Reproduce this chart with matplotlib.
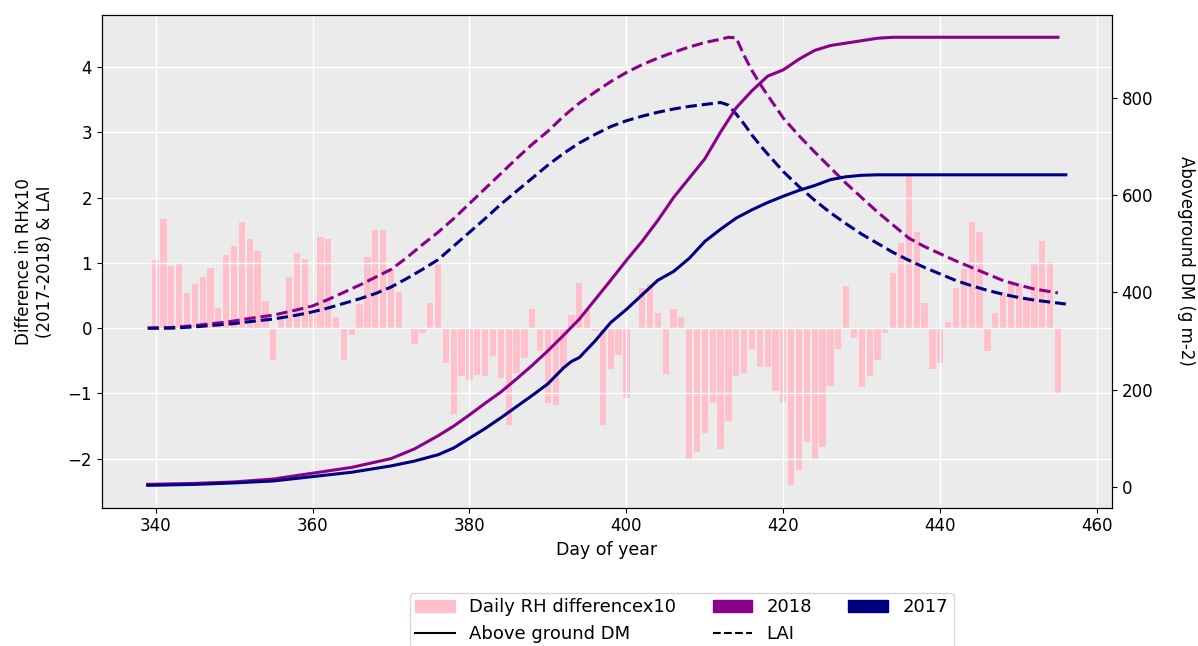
import numpy as np
import matplotlib
matplotlib.use('Agg')
import matplotlib.pyplot as plt
from matplotlib.patches import Patch
from matplotlib.lines import Line2D

# Diferenca diaria de UR (2017-2018) x10, um valor por dia (340 a 455)
dias_rh = list(range(340, 456))
rh_dif = [1.04, 1.68, 0.95, 0.98, 0.54, 0.67, 0.79, 0.92, 0.31, 1.12,
          1.26, 1.62, 1.36, 1.18, 0.42, -0.49, 0.14, 0.79, 1.15, 1.06,
          0.22, 1.40, 1.37, 0.17, -0.49, -0.10, 0.37, 1.09, 1.51, 1.51,
          0.90, 0.56, -0.02, -0.24, -0.07, 0.39, 0.98, -0.54, -1.32, -0.74,
          -0.80, -0.72, -0.74, -0.43, -0.77, -1.49, -0.68, -0.46, 0.29, -0.35,
          -1.15, -1.18, -0.61, 0.20, 0.70, 0.28, -0.04, -1.49, -0.63, -0.41,
          -1.07, -0.02, 0.62, 0.67, 0.23, -0.71, 0.29, 0.17, -2.02, -1.90,
          -1.60, -1.15, -1.85, -1.43, -0.74, -0.68, -0.32, -0.60, -0.60, -0.97,
          -1.13, -2.41, -2.18, -1.74, -2.02, -1.82, -0.88, -0.32, 0.65, -0.15,
          -0.90, -0.74, -0.49, -0.07, 0.84, 1.31, 2.33, 1.48, 0.39, -0.63,
          -0.54, 0.09, 0.62, 0.90, 1.62, 1.48, -0.35, 0.23, 0.55, 0.70,
          0.67, 0.43, 0.98, 1.34, 1.01, -0.99]

# LAI
dias_lai18 = [339, 342, 345, 348, 350, 352, 355, 358, 360, 362, 364, 366, 368,
              370, 372, 374, 376, 378, 380, 382, 384, 386, 388, 390, 392, 394,
              396, 398, 400, 402, 404, 406, 408, 410, 412, 413, 414, 415, 416,
              417, 418, 420, 422, 424, 426, 428, 430, 432, 434, 436, 438, 440,
              442, 444, 446, 448, 450, 452, 454, 455]
lai_2018 = [0.00, 0.01, 0.04, 0.08, 0.11, 0.15, 0.20, 0.28, 0.34, 0.44, 0.55,
            0.66, 0.78, 0.90, 1.08, 1.28, 1.47, 1.68, 1.91, 2.14, 2.37, 2.60,
            2.82, 3.02, 3.25, 3.45, 3.62, 3.78, 3.92, 4.04, 4.14, 4.23, 4.31,
            4.38, 4.43, 4.46, 4.45, 4.18, 3.95, 3.75, 3.57, 3.22, 2.95, 2.70,
            2.46, 2.22, 2.00, 1.78, 1.58, 1.38, 1.25, 1.14, 1.03, 0.93, 0.83,
            0.73, 0.66, 0.60, 0.56, 0.54]

dias_lai17 = [339, 342, 345, 348, 350, 352, 355, 358, 360, 362, 364, 366, 368,
              370, 372, 374, 376, 378, 380, 382, 384, 386, 388, 390, 392, 394,
              396, 398, 400, 402, 404, 406, 408, 410, 412, 413, 414, 415, 416,
              417, 418, 420, 422, 424, 426, 428, 430, 432, 434, 436, 438, 440,
              442, 444, 446, 448, 450, 452, 454, 456]
lai_2017 = [0.00, 0.00, 0.02, 0.05, 0.07, 0.10, 0.14, 0.20, 0.25, 0.31, 0.38,
            0.45, 0.53, 0.63, 0.76, 0.90, 1.05, 1.26, 1.47, 1.68, 1.90, 2.10,
            2.30, 2.50, 2.68, 2.84, 2.97, 3.09, 3.18, 3.25, 3.31, 3.36, 3.40,
            3.43, 3.46, 3.42, 3.28, 3.13, 2.96, 2.81, 2.67, 2.40, 2.17, 1.96,
            1.77, 1.60, 1.44, 1.30, 1.16, 1.04, 0.93, 0.83, 0.73, 0.65, 0.58,
            0.52, 0.47, 0.43, 0.40, 0.37]

# Materia seca acima do solo (g m-2)
dias_dm18 = [339, 345, 350, 355, 360, 365, 370, 373, 376, 378, 380, 382, 384,
             386, 388, 390, 392, 394, 396, 398, 400, 402, 404, 406, 408, 410,
             412, 414, 416, 418, 420, 422, 424, 426, 428, 430, 432, 434, 436,
             455]
dm_2018 = [5, 7, 10, 16, 28, 40, 58, 78, 105, 125, 148, 172, 195, 222, 250,
           280, 312, 345, 385, 425, 466, 505, 548, 595, 635, 675, 730, 780,
           815, 845, 858, 880, 898, 908, 913, 918, 923, 925, 925, 925]

dias_dm17 = [339, 345, 350, 355, 360, 365, 370, 373, 376, 378, 380, 382, 384,
             386, 388, 390, 392, 393, 394, 396, 398, 400, 402, 404, 406, 408,
             410, 412, 414, 416, 418, 420, 422, 424, 426, 428, 430, 432, 456]
dm_2017 = [3, 5, 8, 12, 21, 30, 43, 53, 66, 80, 100, 120, 142, 165, 188, 212,
           245, 258, 266, 300, 338, 365, 395, 425, 443, 470, 505, 530, 553,
           570, 585, 598, 610, 620, 632, 638, 641, 642, 642]

plt.rcParams['font.size'] = 12

fig = plt.figure(figsize=(11.98, 6.46), dpi=100)
ax = fig.add_axes([0.085, 0.214, 0.843, 0.763])
ax.set_facecolor('#EBEBEB')
ax.grid(True, color='white', linewidth=1)
for s in ax.spines.values():
    s.set_color('black')

ax.bar(dias_rh, rh_dif, color='pink', width=0.8)
ax.plot(dias_lai18, lai_2018, color='darkmagenta', linestyle='--', linewidth=2.2)
ax.plot(dias_lai17, lai_2017, color='navy', linestyle='--', linewidth=2.2)
ax.set_xlabel('Day of year', fontsize=12.5)
ax.set_ylabel('Difference in RHx10\n(2017-2018) & LAI', labelpad=10)

ax2 = ax.twinx()
ax2.plot(dias_dm18, dm_2018, color='darkmagenta', linewidth=2.2)
ax2.plot(dias_dm17, dm_2017, color='navy', linewidth=2.2)
ax2.set_ylabel('Aboveground DM (g m-2)', rotation=270, labelpad=30)

handles = [Patch(color='pink', label='Daily RH differencex10'),
           Line2D([], [], color='black', label='Above ground DM'),
           Patch(color='darkmagenta', label='2018'),
           Line2D([], [], color='black', linestyle='--', label='LAI'),
           Patch(color='navy', label='2017')]
fig.legend(handles=handles, ncol=3, loc='upper center', fontsize=13,
           bbox_to_anchor=(0.569, 0.096), frameon=True, borderpad=0.3,
           handlelength=2.2)

fig.savefig('out.png', dpi=100)
